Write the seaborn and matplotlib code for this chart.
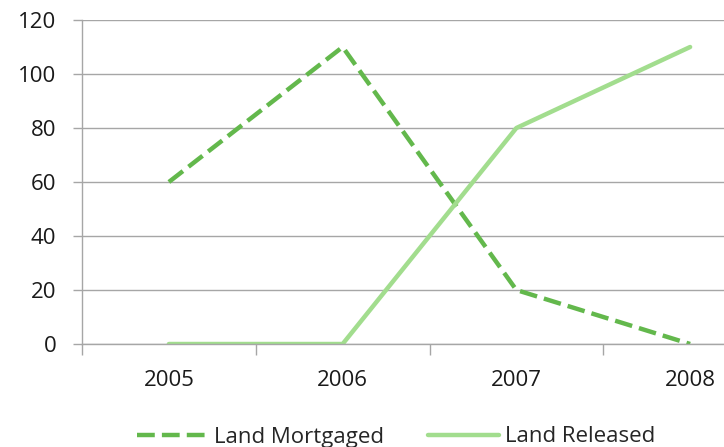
import numpy as np
import pandas as pd
import seaborn as sns
import matplotlib.pyplot as plt

years = ['2005', '2006', '2007', '2008']
land_mortgaged = [60, 110, 20, 0]
land_released = [0, 0, 80, 110]
series_names = ['Land Mortgaged', 'Land Released']
y_ticks = [0, 20, 40, 60, 80, 100, 120]

df = pd.DataFrame({
    'year': years * 2,
    'value': land_mortgaged + land_released,
    'series': [series_names[0]] * 4 + [series_names[1]] * 4,
})

sns.set_theme(style='white')
plt.rcParams['font.family'] = ['Open Sans', 'DejaVu Sans']

W, H = 724, 447
fig = plt.figure(figsize=(W / 100, H / 100), dpi=100)
# plot area is cut off on the right in the reference
ax = fig.add_axes([82 / W, 103 / H, (777 - 82) / W, 324 / H])

sns.lineplot(data=df, x='year', y='value', hue='series', style='series',
             palette={'Land Mortgaged': '#63b84c', 'Land Released': '#a2dd8e'},
             dashes={'Land Mortgaged': (4, 1.6), 'Land Released': ''},
             linewidth=3.2, ax=ax, sort=False)

ax.set_xlim(-0.5, 3.5)
ax.set_ylim(0, 120)
ax.set_yticks(y_ticks)
ax.yaxis.grid(True, color='#a6a6a6', linewidth=1)
ax.set_axisbelow(True)
ax.set_xlabel('')
ax.set_ylabel('')

for side in ['top', 'right']:
    ax.spines[side].set_visible(False)
for side in ['left', 'bottom']:
    ax.spines[side].set_color('#a6a6a6')
    ax.spines[side].set_linewidth(1)

ax.set_xticks(range(len(years)))
ax.set_xticklabels(years)
ax.set_xticks([-0.5, 0.5, 1.5, 2.5, 3.5], minor=True)
ax.tick_params(axis='x', which='major', length=0, pad=19, labelsize=16, labelcolor='#1a1a1a')
ax.tick_params(axis='x', which='minor', length=8, width=1, color='#a6a6a6', direction='out', bottom=True)
ax.tick_params(axis='y', length=6.5, width=1, color='#a6a6a6', direction='out', left=True,
               pad=12, labelsize=16, labelcolor='#1a1a1a')

leg = ax.legend(ncol=2, frameon=False, fontsize=16, handlelength=3.2, columnspacing=2.0,
                handletextpad=0.25, loc='center',
                bbox_to_anchor=(396 / W, 10 / H), bbox_transform=fig.transFigure)

fig.savefig('out.png', dpi=100)
